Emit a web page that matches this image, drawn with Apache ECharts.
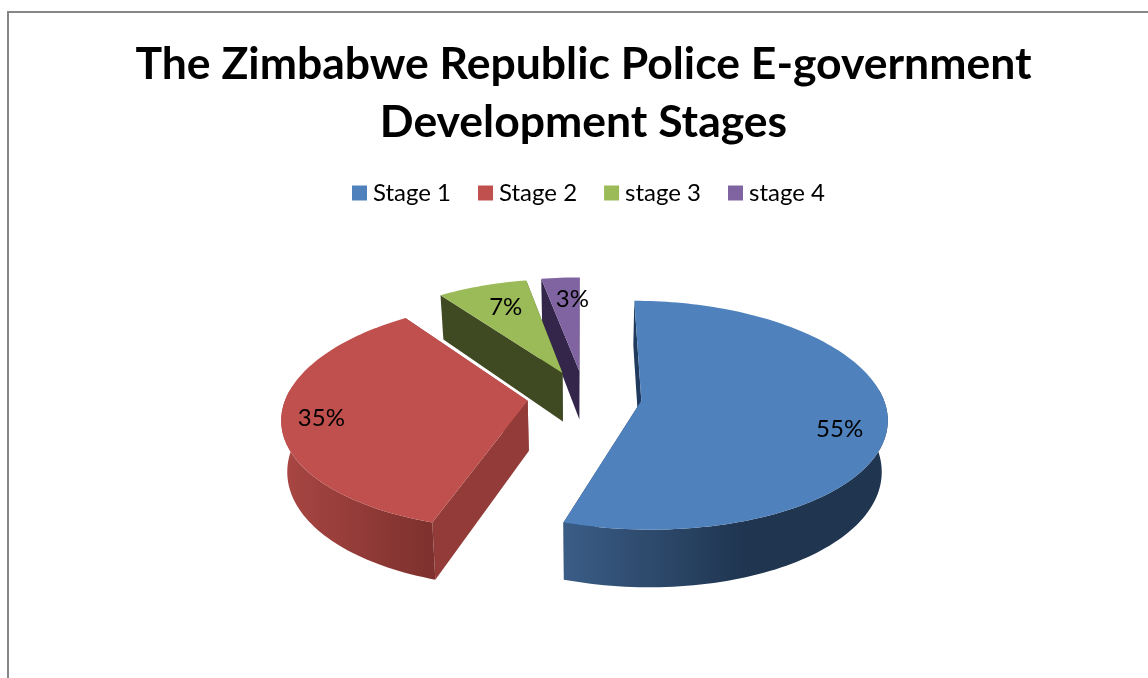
<!DOCTYPE html>
<html>
<head>
<meta charset="utf-8">
<style>html,body{margin:0;padding:0;background:#fff}#c{width:1148px;height:678px}</style>
<script src="https://cdn.jsdelivr.net/npm/echarts@6/dist/echarts.min.js"></script>
</head>
<body>
<div id="c"></div>
<script>
var categories = ['Stage 1', 'Stage 2', 'stage 3', 'stage 4'];
var values = [55, 35, 7, 3];
var titleText = 'The Zimbabwe Republic Police E-government\nDevelopment Stages';

var topColors = ['#4F81BD', '#C0504D', '#9BBB59', '#8064A2'];
var wallColors = ['#1F3A5C', '#923B38', '#3F4A23', '#33264A'];
var sideColors = [['#3A5C85', '#1F3550'], ['#A84643', '#7E312E'], ['#5A6E35', '#3F4A23'], ['#4A3A66', '#33264A']];
var sideSpan = [[567, 745], [285, 430], [440, 530], [540, 580]];
var labelShift = [[2, 14], [-10, 3], [9, 5], [8.5, 5]];
var drawZ = [5, 4, 3, 2];

var geo = { cx: 584.5, cy: 396.5, R: 241.5, Ry: 111.5, k: 0.127, kx: 0.14, h: 50, zx: 0.02, explode: 0.237, labelR: 0.8 };
var total = values.reduce(function (a, b) { return a + b; }, 0);

function project(u, v, z, mu, mv, e) {
  var ux = u + e * mu, vx = v + e * mv, w = 1 - geo.k * vx, wx = 1 - geo.kx * vx;
  return [geo.cx + geo.R * ux / wx * (1 - geo.zx * z), geo.cy + geo.Ry * vx / w + z * geo.h / w];
}

function makeRender(idx) {
  return function () {
    var before = 0;
    for (var i = 0; i < idx; i++) before += values[i];
    var a0 = before / total * 2 * Math.PI, a1 = (before + values[idx]) / total * 2 * Math.PI, am = (a0 + a1) / 2;
    var mu = Math.sin(am), mv = -Math.cos(am), e = geo.explode;
    var P = function (r, a, z) { return project(r * Math.sin(a), -r * Math.cos(a), z, mu, mv, e); };
    var steps = Math.max(8, Math.round((a1 - a0) * 40));
    var arcTop = [], sideTop = [], sideBot = [];
    for (var s = 0; s <= steps; s++) {
      var a = a0 + (a1 - a0) * s / steps;
      arcTop.push(P(1, a, 0));
      if (-Math.cos(a) > -0.1) {
        sideTop.push(P(1, a, 0));
        sideBot.push(P(1, a, 1));
      }
    }
    var apexT = P(0, 0, 0), apexB = P(0, 0, 1);
    var sp = sideSpan[idx];
    var grad = new echarts.graphic.LinearGradient(sp[0], 0, sp[1], 0, [
      { offset: 0, color: sideColors[idx][0] }, { offset: 1, color: sideColors[idx][1] }
    ], true);
    var lp = P(geo.labelR, am, 0);
    var sh = labelShift[idx];
    var children = [
      { type: 'polygon', shape: { points: [apexT, P(1, a0, 0), P(1, a0, 1), apexB] }, style: { fill: wallColors[idx] } },
      { type: 'polygon', shape: { points: [apexT, P(1, a1, 0), P(1, a1, 1), apexB] }, style: { fill: wallColors[idx] } }
    ];
    if (sideTop.length > 1) {
      children.push({ type: 'polygon', shape: { points: sideTop.concat(sideBot.slice().reverse()) }, style: { fill: grad } });
    }
    children.push({ type: 'polygon', shape: { points: [apexT].concat(arcTop) }, style: { fill: topColors[idx] } });
    children.push({ type: 'text', style: { text: values[idx] + '%', x: lp[0] + sh[0], y: lp[1] + sh[1], align: 'center', verticalAlign: 'middle', fill: '#000', font: '24px Lato' } });
    return { type: 'group', children: children };
  };
}

var series = categories.map(function (name, i) {
  return {
    type: 'custom', name: name, coordinateSystem: 'none', z: drawZ[i],
    itemStyle: { color: topColors[i] }, data: [values[i]], renderItem: makeRender(i), silent: true, animation: false
  };
});

var chart = echarts.init(document.getElementById('c'), null, { renderer: 'canvas' });
chart.setOption({
  backgroundColor: '#fff',
  animation: false,
  title: {
    text: titleText, left: 578.5, top: 31, textAlign: 'center',
    textStyle: { fontFamily: 'Lato', fontWeight: 'bold', fontSize: 44.5, lineHeight: 58, color: '#000' }
  },
  legend: {
    data: categories, left: 352, top: 181, padding: 0, icon: 'rect', itemWidth: 15, itemHeight: 15, itemGap: 27,
    textStyle: { fontFamily: 'Lato', fontSize: 24, color: '#000', padding: [0, 0, 0, 1] }
  },
  graphic: [
    { type: 'polyline', z: 10, shape: { points: [[8, 678], [8, 12], [1148, 12]] }, style: { fill: null, stroke: '#868686', lineWidth: 2 } }
  ],
  series: series
});
</script>
</body>
</html>
